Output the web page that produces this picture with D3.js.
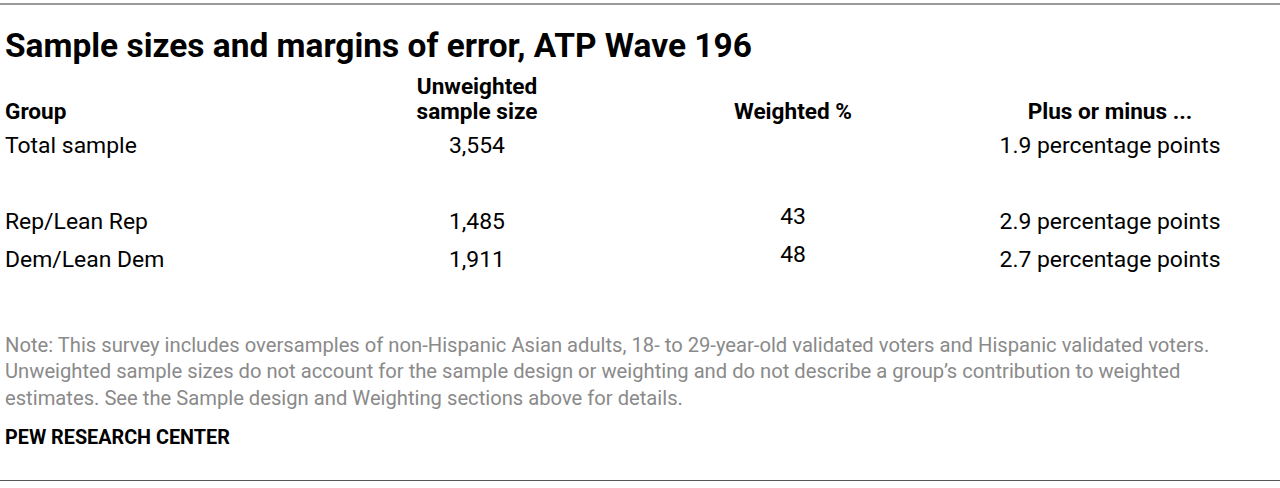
<!DOCTYPE html>
<html><head><meta charset="utf-8">
<script src="https://cdn.jsdelivr.net/npm/d3@7/dist/d3.min.js"></script>
<style>
html,body{margin:0;padding:0;background:#fff;}
svg{display:block;}
</style></head>
<body>
<svg id="c" width="1280" height="488"></svg>
<script>
const title = "Sample sizes and margins of error, ATP Wave 196";
const columns = ["Group", "Unweighted\nsample size", "Weighted %", "Plus or minus ..."];
const groups = ["Total sample", "", "Rep/Lean Rep", "Dem/Lean Dem"];
const unweighted = [3554, null, 1485, 1911];
const weighted = [null, null, 43, 48];
const moe = [1.9, null, 2.9, 2.7];
const noteLines = [
  "Note: This survey includes oversamples of non-Hispanic Asian adults, 18- to 29-year-old validated voters and Hispanic validated voters.",
  "Unweighted sample sizes do not account for the sample design or weighting and do not describe a group\u2019s contribution to weighted",
  "estimates. See the Sample design and Weighting sections above for details."
];
const source = "PEW RESEARCH CENTER";

const FONT = "Roboto,'Noto Sans',sans-serif";
const svg = d3.select("#c");

svg.append("line").attr("x1",0).attr("x2",1280).attr("y1",4).attr("y2",4)
  .attr("stroke","#9a9a9a").attr("stroke-width",2);
svg.append("line").attr("x1",0).attr("x2",1280).attr("y1",480.5).attr("y2",480.5)
  .attr("stroke","#555").attr("stroke-width",1);

// size a font so that a sample string reaches a target width
function fitSize(str, weight, target){
  const tmp = svg.append("text").attr("font-family",FONT).attr("font-weight",weight)
    .attr("font-size",20).text(str);
  const w = tmp.node().getComputedTextLength();
  tmp.remove();
  return 20*target/w;
}
const titleSize = fitSize(title, "bold", 747);
const headSize = fitSize("Weighted %", "bold", 118);
const bodySize = fitSize("1.9 percentage points", "normal", 221);
const noteSize = fitSize(noteLines[0], "normal", 1205);
const srcSize = fitSize(source, "bold", 225);

svg.append("text").attr("x",5).attr("y",57).attr("font-family",FONT)
  .attr("font-weight","bold").attr("font-size",titleSize).attr("fill","#000").text(title);

const x = d3.scaleOrdinal().domain(columns).range([5, 477, 793, 1110]);
const anchors = ["start","middle","middle","middle"];
const y = d3.scaleBand().domain(groups).range([127, 279]);

columns.forEach((c,i)=>{
  const lines = c.split("\n");
  lines.forEach((ln,j)=>{
    svg.append("text").attr("x",x(c)).attr("y",118.5 - (lines.length-1-j)*25)
      .attr("text-anchor",anchors[i]).attr("font-family",FONT).attr("font-weight","bold")
      .attr("font-size",headSize).attr("fill","#000").text(ln);
  });
});

const fmt = d3.format(",");
const rowBase = g => y(g) + y.bandwidth()/2 + 7;
const body = svg.append("g").attr("font-family",FONT).attr("font-size",bodySize).attr("fill","#000");
groups.forEach((g,i)=>{
  if(!g) return;
  body.append("text").attr("x",x(columns[0])).attr("y",rowBase(g)).text(g);
  if(unweighted[i]!=null) body.append("text").attr("x",x(columns[1])).attr("y",rowBase(g))
    .attr("text-anchor","middle").text(fmt(unweighted[i]));
  if(weighted[i]!=null) body.append("text").attr("x",x(columns[2])).attr("y",rowBase(g)-5)
    .attr("text-anchor","middle").text(weighted[i]);
  if(moe[i]!=null) body.append("text").attr("x",x(columns[3])).attr("y",rowBase(g))
    .attr("text-anchor","middle").text(moe[i].toFixed(1)+" percentage points");
});

noteLines.forEach((ln,i)=>{
  svg.append("text").attr("x",5).attr("y",351.5+i*26.5).attr("font-family",FONT)
    .attr("font-size",noteSize).attr("fill","#8a8a8a").text(ln);
});
svg.append("text").attr("x",5).attr("y",443.5).attr("font-family",FONT).attr("font-weight","bold")
  .attr("font-size",srcSize).attr("fill","#000").text(source);
</script>
</body></html>
